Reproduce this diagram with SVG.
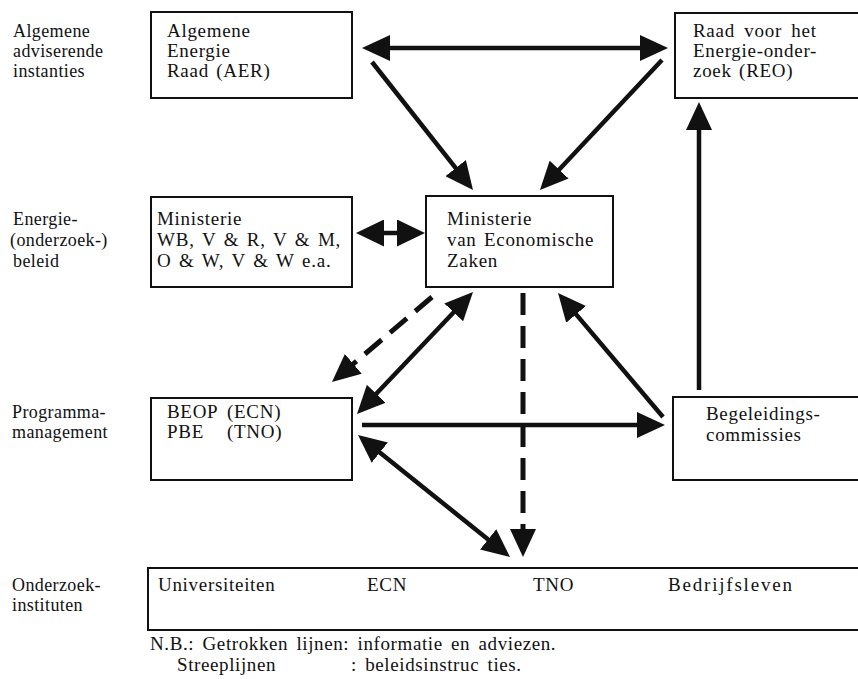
<svg xmlns="http://www.w3.org/2000/svg" width="858" height="679" viewBox="0 0 858 679">
<style>
text{font-family:"Liberation Serif","Times New Roman",serif;font-size:19px;fill:#111;letter-spacing:0.7px;word-spacing:2px}
.lab{font-size:18px;letter-spacing:0.4px;word-spacing:0}
.note{letter-spacing:0.6px;word-spacing:3px}
.box{fill:#fff;stroke:#111;stroke-width:2}
.c{fill:none;stroke:#111;stroke-width:4.5}
.d{stroke-dasharray:22 11;stroke-width:5}
</style>
<defs>
<marker id="ah" viewBox="0 0 28 26" refX="18" refY="13" markerWidth="28" markerHeight="26" markerUnits="userSpaceOnUse" orient="auto-start-reverse"><path d="M0,0L28,13L0,26z" fill="#111"/></marker>
<marker id="ahb" viewBox="0 0 28 27" refX="18" refY="13.5" markerWidth="28" markerHeight="27" markerUnits="userSpaceOnUse" orient="auto-start-reverse"><path d="M0,0L28,13.5L0,27z" fill="#111"/></marker>
</defs>
<g id="labels">
<text class="lab" x="13" y="37">Algemene</text><text class="lab" x="13" y="57">adviserende</text><text class="lab" x="13" y="77">instanties</text>
<text class="lab" x="13" y="225">Energie-</text><text class="lab" x="10" y="246">(onderzoek-)</text><text class="lab" x="13" y="267">beleid</text>
<text class="lab" x="12" y="418">Programma-</text><text class="lab" x="12" y="438">management</text>
<text class="lab" x="12" y="591">Onderzoek-</text><text class="lab" x="12" y="611">instituten</text>
</g>
<g id="aer"><rect class="box" x="151" y="12" width="201" height="86"/>
<text x="167" y="37">Algemene</text><text x="167" y="57">Energie</text><text x="167" y="77">Raad (AER)</text></g>
<g id="reo"><path class="box" d="M858,13H675V98H858"/>
<text x="693" y="37" style="word-spacing:4px">Raad voor het</text><text x="693" y="57">Energie-onder-</text><text x="693" y="77">zoek (REO)</text></g>
<g id="min"><rect class="box" x="151" y="197" width="201" height="90"/>
<text x="157" y="225">Ministerie</text><text x="157" y="246" style="letter-spacing:0.8px;word-spacing:2px">WB, V &amp; R, V &amp; M,</text><text x="157" y="267" style="letter-spacing:0.8px;word-spacing:2px">O &amp; W, V &amp; W e.a.</text></g>
<g id="ez"><rect class="box" x="426" y="196" width="187" height="91"/>
<text x="447" y="225">Ministerie</text><text x="447" y="246">van Economische</text><text x="447" y="267">Zaken</text></g>
<g id="beop"><rect class="box" x="151" y="398" width="201" height="82"/>
<text x="167" y="418">BEOP</text><text x="227" y="418">(ECN)</text><text x="167" y="438">PBE</text><text x="227" y="438">(TNO)</text></g>
<g id="beg"><path class="box" d="M858,397H673V480H858"/>
<text x="706" y="420">Begeleidings-</text><text x="706" y="441">commissies</text></g>
<g id="inst"><path class="box" d="M858,568H148V630H858"/>
<text x="158" y="591">Universiteiten</text><text x="367" y="591">ECN</text><text x="533" y="591">TNO</text><text x="668" y="591" style="letter-spacing:1.8px">Bedrijfsleven</text></g>
<g id="connectors">
<line class="c" x1="372" y1="48" x2="658" y2="48" marker-start="url(#ah)" marker-end="url(#ah)"/>
<line class="c" x1="372" y1="62" x2="466.8" y2="182.2" marker-end="url(#ah)"/>
<line class="c" x1="662" y1="60" x2="546.8" y2="182.7" marker-end="url(#ah)"/>
<line class="c" x1="366" y1="233" x2="415" y2="233" stroke-width="7" marker-start="url(#ahb)" marker-end="url(#ahb)"/>
<line class="c d" x1="432" y1="297" x2="339.6" y2="375.5" marker-end="url(#ah)"/>
<line class="c" x1="466.1" y1="299.3" x2="363.9" y2="406.8" marker-start="url(#ah)" marker-end="url(#ah)"/>
<line class="c d" x1="523" y1="293" x2="523" y2="547" marker-end="url(#ah)"/>
<line class="c" x1="663" y1="417" x2="564.5" y2="300.6" marker-end="url(#ah)"/>
<line class="c" x1="362" y1="425" x2="655" y2="425" marker-end="url(#ah)"/>
<line class="c" x1="365.8" y1="441.3" x2="502.2" y2="550.7" marker-start="url(#ah)" marker-end="url(#ah)"/>
<line class="c" x1="699" y1="390" x2="699" y2="112" stroke-width="5.5" marker-end="url(#ah)"/>
</g>
<g id="note">
<text class="note" x="150" y="650">N.B.: Getrokken lijnen: informatie en adviezen.</text>
<text class="note" x="177" y="671">Streeplijnen</text><text class="note" x="351" y="671">: beleidsinstruc ties.</text>
</g>
</svg>
